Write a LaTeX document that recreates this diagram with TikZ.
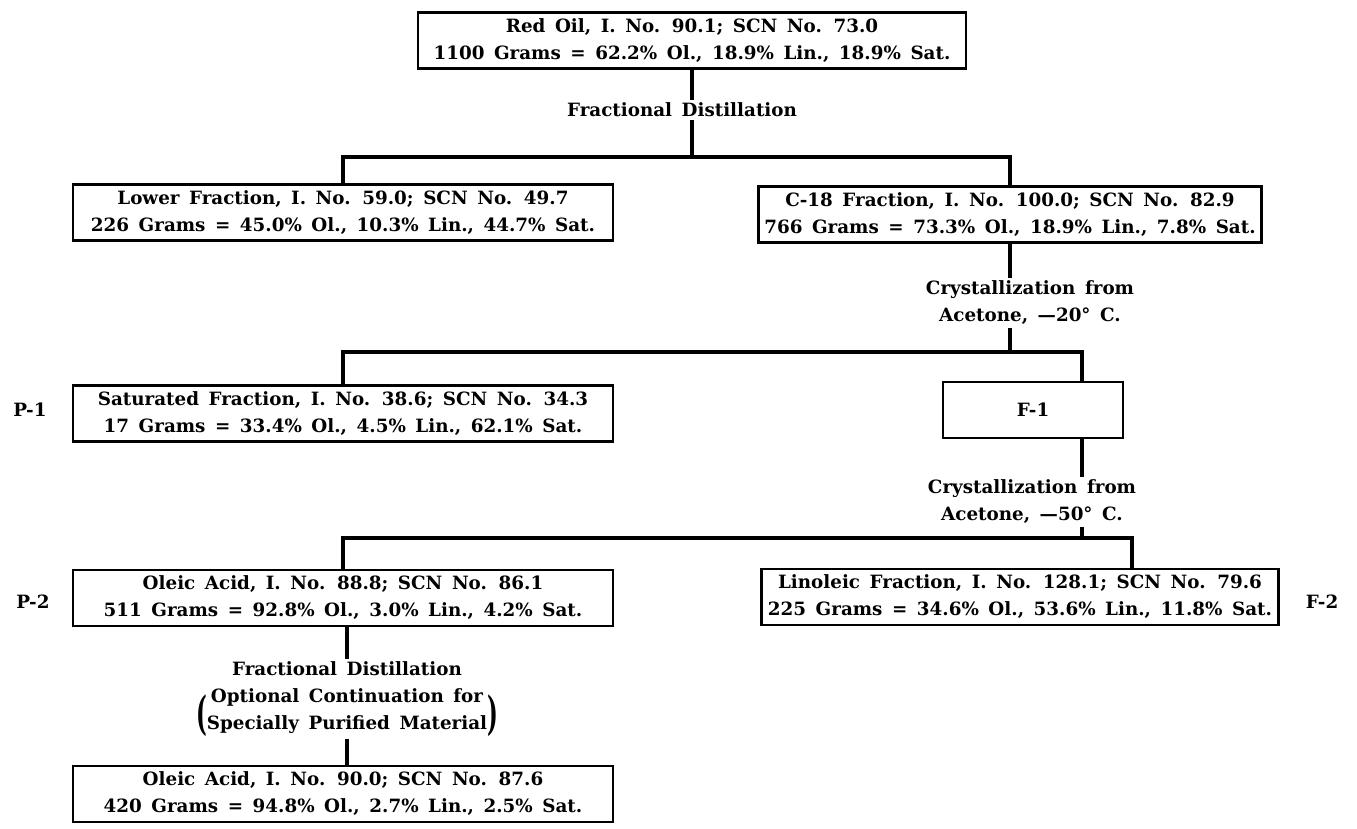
\documentclass[tikz,border=0pt]{standalone}
\usepackage{graphicx}
\usepackage{fontspec}
\setmainfont{DejaVu Serif}[WordSpace=1.5]
\begin{document}
\begin{tikzpicture}[x=1pt,y=-1pt,
  txt/.style={font=\fontsize{18.3}{27}\selectfont\bfseries},
  box/.style={txt, draw, line width=2.8pt, align=center, inner xsep=6pt, inner ysep=3pt, minimum height=56pt},
  lbl/.style={txt, align=center, inner sep=3pt},
  conn/.style={line width=3.2pt}]
\useasboundingbox (0,0) rectangle (1357,828);

\node[box, minimum width=548pt] (top) at (692,40.5) {Red Oil, I. No. 90.1; SCN No. 73.0\\1100 Grams = 62.2\% Ol., 18.9\% Lin., 18.9\% Sat.};
\node[lbl] (fd1) at (682,110) {Fractional Distillation};
\coordinate (j1) at (692,157);

\node[box, minimum width=540pt] (lower) at (343,212.5) {Lower Fraction, I. No. 59.0; SCN No. 49.7\\226 Grams = 45.0\% Ol., 10.3\% Lin., 44.7\% Sat.};
\node[box, minimum width=500pt] (c18) at (1010,214.5) {C-18 Fraction, I. No. 100.0; SCN No. 82.9\\766 Grams = 73.3\% Ol., 18.9\% Lin., 7.8\% Sat.};

\node[lbl] (cr1) at (1030,303) {Crystallization from\\Acetone, —20° C.};
\coordinate (j2) at (1010,352);
\coordinate (j2r) at (1082,352);

\node[box, minimum width=540pt] (sat) at (343,413.5) {Saturated Fraction, I. No. 38.6; SCN No. 34.3\\17 Grams = 33.4\% Ol., 4.5\% Lin., 62.1\% Sat.};
\node[box, minimum width=180pt] (f1) at (1033,410) {F-1};
\node[lbl] (p1) at (30,410) {P-1};

\node[lbl] (cr2) at (1032,502) {Crystallization from\\Acetone, —50° C.};
\coordinate (j3) at (1082,538);
\coordinate (j3r) at (1132,538);

\node[box, minimum width=540pt] (oleic) at (343,598) {Oleic Acid, I. No. 88.8; SCN No. 86.1\\511 Grams = 92.8\% Ol., 3.0\% Lin., 4.2\% Sat.};
\node[box, minimum width=517pt] (lin) at (1020,597) {Linoleic Fraction, I. No. 128.1; SCN No. 79.6\\225 Grams = 34.6\% Ol., 53.6\% Lin., 11.8\% Sat.};
\node[lbl] (p2) at (33,602) {P-2};
\node[lbl] (f2) at (1322,602) {F-2};

\node[lbl] (fd2) at (347,669) {Fractional Distillation};
\node[lbl, inner sep=1pt] (fd2b) at (347,711) {\raisebox{-14pt}{\scalebox{1.25}[2.5]{(}}\begin{tabular}{@{}c@{}}Optional Continuation for\\Specially Purified Material\end{tabular}\raisebox{-14pt}{\scalebox{1.25}[2.5]{)}}};
\node[box, minimum width=540pt] (final) at (343,794) {Oleic Acid, I. No. 90.0; SCN No. 87.6\\420 Grams = 94.8\% Ol., 2.7\% Lin., 2.5\% Sat.};

% connectors
\draw[conn] (top.south -| j1) -- (fd1.north -| j1);
\draw[conn] (fd1.south -| j1) -- (j1);
\draw[conn] (lower.north) -- (lower.north |- j1) -- (c18.north |- j1) -- (c18.north);

\draw[conn] (c18.south) -- (c18.south |- cr1.north);
\draw[conn] (c18.south |- cr1.south) -- (j2);
\draw[conn] (sat.north) -- (sat.north |- j2) -- (j2r) -- (j2r |- f1.north);

\draw[conn] (j2r |- f1.south) -- (j2r |- cr2.north);
\draw[conn] (j3 |- cr2.south) -- (j3);
\draw[conn] (oleic.north) -- (oleic.north |- j3) -- (j3r) -- (j3r |- lin.north);

\draw[conn] (oleic.south -| fd2.north) -- (fd2.north);
\draw[conn] (fd2b.south) -- (final.north -| fd2b.south);
\end{tikzpicture}
\end{document}
